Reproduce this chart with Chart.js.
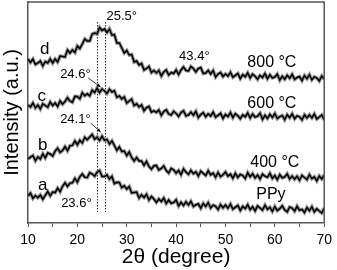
<!DOCTYPE html>
<html>
<head>
<meta charset="utf-8">
<script src="https://cdn.jsdelivr.net/npm/chart.js@4.4.1/dist/chart.umd.min.js"></script>
<style>
  html, body { margin: 0; padding: 0; background: #fff; }
</style>
</head>
<body>
<canvas id="xrdChart" width="337" height="270"></canvas>
<script>
// 2theta grid, 0.5 degree steps
const twoTheta = [
  10, 10.5, 11, 11.5, 12, 12.5, 13, 13.5, 14, 14.5, 15, 15.5, 16, 16.5, 17, 17.5, 18, 18.5, 19, 19.5,
  20, 20.5, 21, 21.5, 22, 22.5, 23, 23.5, 24, 24.5, 25, 25.5, 26, 26.5, 27, 27.5, 28, 28.5, 29, 29.5,
  30, 30.5, 31, 31.5, 32, 32.5, 33, 33.5, 34, 34.5, 35, 35.5, 36, 36.5, 37, 37.5, 38, 38.5, 39, 39.5,
  40, 40.5, 41, 41.5, 42, 42.5, 43, 43.5, 44, 44.5, 45, 45.5, 46, 46.5, 47, 47.5, 48, 48.5, 49, 49.5,
  50, 50.5, 51, 51.5, 52, 52.5, 53, 53.5, 54, 54.5, 55, 55.5, 56, 56.5, 57, 57.5, 58, 58.5, 59, 59.5,
  60, 60.5, 61, 61.5, 62, 62.5, 63, 63.5, 64, 64.5, 65, 65.5, 66, 66.5, 67, 67.5, 68, 68.5, 69, 69.5,
  70
];

// intensities (a.u., curves stacked with offsets)
const curveD800 = [
  164, 160.5, 164, 158.5, 160, 162, 157, 161.5, 160, 164,
  160, 164, 161, 167, 166.5, 166, 173, 170, 173, 170.5,
  177, 174.5, 179, 184, 182, 182, 189, 190, 189, 195.5,
  192.5, 194, 190.5, 194, 188, 188.5, 180, 180, 175, 170,
  172.5, 168, 168.5, 161, 162, 158, 159.5, 153, 154.5, 156.5,
  150.5, 152.5, 150, 152.5, 147, 151, 153, 148, 150.5, 149.5,
  153, 148.5, 153, 156, 152.5, 152, 156.5, 154.5, 151, 154.5,
  155.5, 149.5, 150, 152.5, 149, 152.5, 146, 149, 150.5, 146.5,
  149, 146.9, 150.8, 145.7, 147.6, 149.5, 144.4, 148.3, 146.2, 150.1,
  145, 148.9, 146.8, 143.7, 147.6, 145.5, 149.4, 144.3, 148.2, 145.1,
  146, 148.9, 142.9, 146.8, 143.8, 147.7, 144.7, 148.6, 143.6, 145.5,
  146.5, 142.4, 147.4, 144.3, 148.3, 143.2, 146.2, 145.1, 142.1, 147,
  144
];
const curveC600 = [
  118, 116, 120, 115, 118, 114, 119.2, 117.5, 115.8, 121,
  117.5, 120, 116.5, 122, 118.8, 121.5, 125.3, 122, 120.8, 126.6,
  126.4, 124.2, 130.2, 127.2, 129.2, 127.2, 132.8, 130.4, 135, 130.5,
  134, 132, 129.5, 133.8, 131, 132.3, 125.7, 127, 124, 126,
  120, 122, 123.8, 117.5, 119.2, 116, 118, 112.2, 115.3, 116.5,
  110.9, 112.2, 110.6, 113, 107.7, 111.5, 113.2, 109, 107.9, 111.7,
  109.6, 106.5, 110.4, 112.2, 107.1, 108, 110.9, 107.8, 111.6, 105.5,
  108.4, 110.3, 106.2, 109.1, 107, 110.9, 105.8, 107.7, 109.7, 104.6,
  108.5, 106.4, 110.4, 105.3, 109.3, 107.2, 104.2, 108.1, 106.1, 110,
  105, 108.9, 105.9, 106.8, 109.8, 103.7, 107.7, 104.6, 108.6, 105.5,
  109.5, 104.4, 106.4, 107.4, 103.3, 108.3, 105.3, 109.2, 104.2, 107.2,
  106.2, 103.1, 108.1, 105.1, 108.1, 105, 109, 104, 106, 108,
  103
];
const curveB400 = [
  64, 65.8, 67.5, 62.3, 66.1, 64, 69.2, 65.1, 70.1, 69,
  67, 71.9, 74.8, 70.6, 72.5, 76.4, 72.3, 77.3, 77.6, 82,
  78.3, 82.7, 80, 85.7, 83.3, 85.9, 88.4, 83.8, 86, 82.7,
  86.8, 82.7, 83.5, 79, 82.2, 77.5, 72.7, 76, 71.5, 72,
  67.5, 71, 65.5, 62, 65.5, 62, 61.9, 57.7, 61.6, 56.5,
  53.9, 57.2, 57.6, 53, 54.5, 57, 52.5, 50, 54.6, 53.2,
  49.9, 52.5, 48.3, 54.1, 50.9, 48.7, 52.6, 49.4, 51.2, 47,
  51.8, 49.6, 47.5, 52.3, 48.1, 49.9, 45.7, 50.5, 46.4, 48.2,
  51, 46.9, 48.9, 44.8, 49.7, 45.6, 48.6, 47.5, 44.4, 50.3,
  46.3, 49.2, 45.1, 48, 44, 48.9, 46.8, 45.7, 49.7, 44.6,
  47.5, 43.4, 48.3, 45.2, 46.1, 49.1, 44, 46.9, 43.8, 46.7,
  42.7, 47.6, 45.5, 43.4, 48.3, 44.3, 46.2, 42.1, 47, 44,
  48
];
const curveAPPy = [
  27, 29.8, 24.6, 27.4, 25.2, 28, 23.8, 27.7, 31.5, 27.2,
  31, 30.4, 34.9, 31.3, 36.7, 40.1, 36.5, 39.9, 40.2, 44.6,
  40.9, 46.2, 49, 45.8, 45.5, 50.3, 49, 46.8, 50.9, 52.4,
  46.5, 46.5, 48.2, 43.9, 46.6, 39.3, 40.7, 40.5, 35.3, 37.2,
  34, 36.5, 30, 30.5, 31, 25, 28.2, 25.5, 28.7, 23,
  26.5, 24, 20.5, 24, 21.5, 25, 19.5, 23, 19.7, 20.5,
  23.2, 17, 20.7, 17.5, 21.2, 18, 21.7, 16.5, 18.2, 19,
  14.8, 19.6, 16.5, 20.3, 15.1, 17.9, 16.7, 13.5, 18.4, 15.2,
  18, 14.9, 18.9, 13.8, 15.7, 17.6, 12.6, 16.5, 14.4, 18.3,
  13.3, 16.2, 12.1, 17, 15, 12.9, 17.8, 13.7, 15.7, 11.6,
  16.5, 12.4, 14.3, 17.2, 13.1, 11.1, 16, 14.9, 11.8, 16.7,
  12.7, 13.6, 10.5, 15.4, 12.3, 16.3, 11.2, 14.1, 12, 10,
  15
];

const curveLetters = ['d', 'c', 'b', 'a'];
const curveTemps = ['800 \u00b0C', '600 \u00b0C', '400 \u00b0C', 'PPy'];
const peakLines = [24.0, 25.5];

const FONT = 'Arial, "Liberation Sans", sans-serif';

// where the notes go, in data units
const notes = [
  { text: '25.5\u00b0', x: 25.9, y: 207, size: 13, align: 'left' },
  { text: '43.4\u00b0', x: 43.7, y: 167, size: 13 },
  { text: '24.6\u00b0', x: 19.6, y: 149, size: 13 },
  { text: '24.1\u00b0', x: 19.6, y: 104, size: 13 },
  { text: '23.6\u00b0', x: 19.8, y: 20, size: 13 },
  { text: curveLetters[0], x: 13.4, y: 174, size: 17 },
  { text: curveLetters[1], x: 12.8, y: 127, size: 17 },
  { text: curveLetters[2], x: 13.0, y: 78, size: 17 },
  { text: curveLetters[3], x: 13.0, y: 38, size: 17 },
  { text: curveTemps[0], x: 59.4, y: 160, size: 16 },
  { text: curveTemps[1], x: 59.4, y: 119, size: 16 },
  { text: curveTemps[2], x: 60.0, y: 60, size: 16 },
  { text: curveTemps[3], x: 59.2, y: 28, size: 16 }
];
const arrows = [
  { from: [22.2, 145], to: [24.7, 136] },
  { from: [22.7, 100], to: [24.7, 91] }
];

function toPoints(ys) {
  return ys.map((v, i) => ({ x: twoTheta[i], y: v }));
}

// grey halo under a black core gives the noisy band look
function lineSets(ys) {
  return [{
    data: toPoints(ys),
    borderColor: 'rgba(110,110,110,0.75)',
    borderWidth: 3.6,
    pointRadius: 0,
    tension: 0,
    fill: false,
    order: 2
  }, {
    data: toPoints(ys),
    borderColor: '#000',
    borderWidth: 1.5,
    pointRadius: 0,
    tension: 0,
    fill: false,
    order: 1
  }];
}

const framePlugin = {
  id: 'frame',
  beforeDatasetsDraw(chart) {
    const { ctx, scales: { x, y } } = chart;
    ctx.save();
    ctx.strokeStyle = '#333';
    ctx.lineWidth = 1;
    ctx.setLineDash([1.5, 1.5]);
    peakLines.forEach(p => {
      const px = Math.round(x.getPixelForValue(p)) + 0.5;
      ctx.beginPath();
      ctx.moveTo(px, y.getPixelForValue(201));
      ctx.lineTo(px, y.getPixelForValue(11));
      ctx.stroke();
    });
    ctx.restore();
  },
  afterDraw(chart) {
    const { ctx, chartArea: a } = chart;
    ctx.save();
    ctx.strokeStyle = '#555';
    ctx.lineWidth = 1.5;
    ctx.beginPath();
    ctx.moveTo(a.left, a.top);
    ctx.lineTo(a.right, a.top);
    ctx.lineTo(a.right, a.bottom);
    ctx.stroke();
    ctx.restore();
  }
};

const notesPlugin = {
  id: 'notes',
  afterDatasetsDraw(chart) {
    const { ctx, scales: { x, y } } = chart;
    ctx.save();
    ctx.fillStyle = '#000';
    ctx.textBaseline = 'middle';
    notes.forEach(n => {
      ctx.font = n.size + 'px ' + FONT;
      ctx.textAlign = n.align || 'center';
      ctx.fillText(n.text, x.getPixelForValue(n.x), y.getPixelForValue(n.y));
    });
    ctx.strokeStyle = '#000';
    ctx.lineWidth = 0.8;
    arrows.forEach(ar => {
      const x0 = x.getPixelForValue(ar.from[0]), y0 = y.getPixelForValue(ar.from[1]);
      const x1 = x.getPixelForValue(ar.to[0]), y1 = y.getPixelForValue(ar.to[1]);
      ctx.beginPath();
      ctx.moveTo(x0, y0);
      ctx.lineTo(x1, y1);
      ctx.stroke();
      const ang = Math.atan2(y1 - y0, x1 - x0);
      ctx.beginPath();
      ctx.moveTo(x1, y1);
      ctx.lineTo(x1 - 4 * Math.cos(ang - 0.45), y1 - 4 * Math.sin(ang - 0.45));
      ctx.lineTo(x1 - 4 * Math.cos(ang + 0.45), y1 - 4 * Math.sin(ang + 0.45));
      ctx.closePath();
      ctx.fill();
    });
    ctx.restore();
  }
};

const config = {
  type: 'line',
  data: {
    datasets: [
      ...lineSets(curveD800),
      ...lineSets(curveC600),
      ...lineSets(curveB400),
      ...lineSets(curveAPPy)
    ]
  },
  options: {
    responsive: false,
    animation: false,
    layout: { padding: { left: 0, right: 11, top: 2, bottom: 0 } },
    plugins: { legend: { display: false }, tooltip: { enabled: false } },
    scales: {
      x: {
        type: 'linear',
        min: 10,
        max: 70,
        ticks: {
          stepSize: 5,
          autoSkip: false,
          maxRotation: 0,
          padding: 5,
          color: '#000',
          font: { size: 14, family: FONT },
          callback: v => (v % 10 === 0 ? v : '')
        },
        grid: { drawOnChartArea: false, tickLength: 4, color: '#555' },
        border: { color: '#555', width: 1.5 },
        title: {
          display: true,
          text: '2\u03b8 (degree)',
          color: '#000',
          font: { size: 21, family: FONT },
          padding: { top: 0, bottom: 0 }
        },
        afterFit: s => { s.height = 47; }
      },
      y: {
        min: 0,
        max: 221,
        ticks: { display: false },
        grid: { display: false },
        border: { color: '#555', width: 1.5 },
        title: {
          display: true,
          text: 'Intensity (a.u.)',
          color: '#000',
          font: { size: 20, family: FONT },
          padding: { top: 0, bottom: 0 }
        },
        afterFit: s => { s.width = 28; }
      }
    }
  },
  plugins: [framePlugin, notesPlugin]
};

const xrdCanvas = document.getElementById('xrdChart');
var xrdChart = new Chart(xrdCanvas, config);
</script>
</body>
</html>
